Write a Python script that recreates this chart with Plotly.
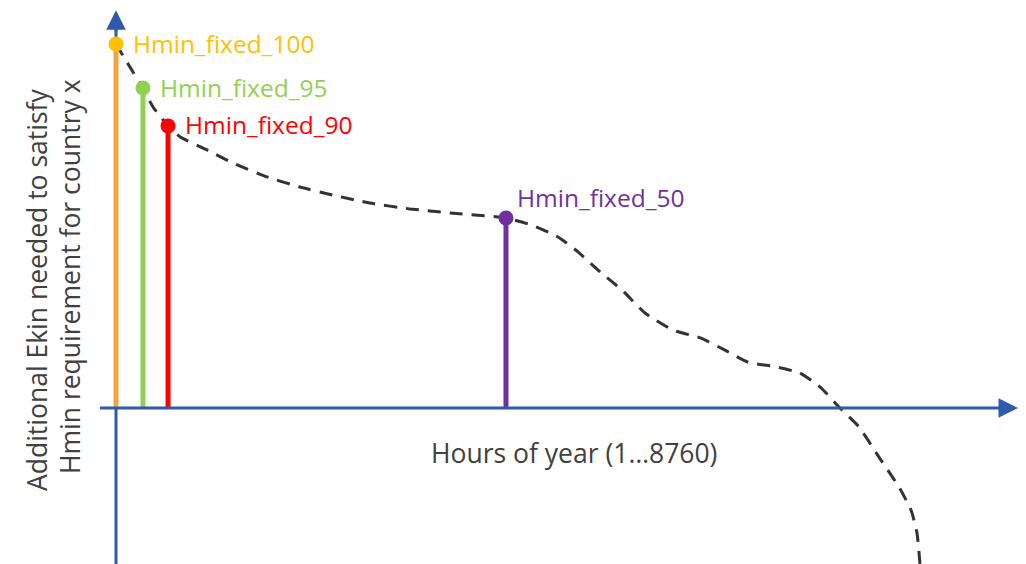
import plotly.graph_objs as go

# duration curve (hours of year vs additional Ekin, arbitrary units)
curve_hours = [0, 185, 294, 403, 567, 697, 991, 1275, 1645, 2005, 2364, 2767, 3203,
               3639, 4249, 4522, 4816, 5034, 5252, 5513, 5764, 6069, 6374, 6635,
               6886, 7191, 7452, 7670, 7888, 8095, 8313, 8531, 8662, 8727, 8760]
curve_ekin = [100, 92.3, 87.9, 82.7, 77.5, 74.5, 70.9, 67.3, 63.5, 60.7, 58.5, 56.3,
              54.7, 53.6, 52.2, 50.3, 47.0, 42.9, 37.9, 32.4, 26.1, 21.4, 19.2, 15.9,
              12.6, 11.3, 9.6, 5.8, 0, -5.2, -13.5, -21.7, -28.0, -34.3, -42.9]

stem_names = ['Hmin_fixed_100', 'Hmin_fixed_95', 'Hmin_fixed_90', 'Hmin_fixed_50']
stem_hours = [0, 294, 567, 4249]
stem_ekin = [100, 87.9, 77.5, 52.2]
stem_line_colors = ['#F4A43A', '#92D050', '#FF0000', '#7030A0']
stem_dot_colors = ['#FFC000', '#92D050', '#FF0000', '#7030A0']
stem_text_colors = ['#FFC000', '#92D050', '#FF0000', '#7030A0']

axis_blue = '#2F5AA8'
font_family = 'Open Sans, Noto Sans, sans-serif'

fig = go.Figure()

# axes (the page has an 8px body margin, ranges are set so the origin lands right)
fig.add_shape(type='line', x0=0, x1=0, y0=-46, y1=105, xref='x', yref='y',
              line=dict(color=axis_blue, width=3), layer='below')

fig.add_trace(go.Scatter(
    x=curve_hours, y=curve_ekin, mode='lines',
    line=dict(color='#333333', width=3, dash='13px,9px', shape='spline', smoothing=0.5),
    hoverinfo='skip'
))

for h, v, lc in zip(stem_hours, stem_ekin, stem_line_colors):
    fig.add_trace(go.Scatter(
        x=[h, h], y=[0, v], mode='lines',
        line=dict(color=lc, width=5), hoverinfo='skip'
    ))

fig.add_trace(go.Scatter(
    x=stem_hours, y=stem_ekin, mode='markers',
    marker=dict(color=stem_dot_colors, size=15, line=dict(width=0)),
    hoverinfo='skip'
))

fig.add_shape(type='line', x0=-174, x1=9700, y0=0, y1=0, xref='x', yref='y',
              line=dict(color=axis_blue, width=3), layer='above')

# labels next to the dots
for i, (name, h, v, c) in enumerate(zip(stem_names, stem_hours, stem_ekin, stem_text_colors)):
    if i == 3:
        fig.add_annotation(x=h, y=v, text=name, showarrow=False, xanchor='left',
                           xshift=9, yshift=21, font=dict(color=c, size=24.5, family=font_family))
    else:
        fig.add_annotation(x=h, y=v, text=name, showarrow=False, xanchor='left',
                           xshift=15, yshift=1, font=dict(color=c, size=24.5, family=font_family))

# arrow heads
fig.add_annotation(x=0, y=109.3, ax=0, ay=103, xref='x', yref='y', axref='x', ayref='y',
                   text='', showarrow=True, arrowhead=2, arrowsize=1.3, arrowwidth=3,
                   arrowcolor=axis_blue)
fig.add_annotation(x=9828, y=0, ax=9600, ay=0, xref='x', yref='y', axref='x', ayref='y',
                   text='', showarrow=True, arrowhead=2, arrowsize=1.3, arrowwidth=3,
                   arrowcolor=axis_blue)

fig.add_annotation(x=0.5517, y=0.211, xref='paper', yref='paper', showarrow=False,
                   xanchor='center', yanchor='middle',
                   text='Hours of year (1…8760)',
                   font=dict(color='#404040', size=26.5, family=font_family))
fig.add_annotation(x=0.0283, y=0.5, xref='paper', yref='paper', showarrow=False,
                   xanchor='center', yanchor='middle',
                   text='Additional Ekin needed to satisfy', textangle=-90,
                   font=dict(color='#404040', size=26.5, family=font_family))
fig.add_annotation(x=0.0604, y=0.5248, xref='paper', yref='paper', showarrow=False,
                   xanchor='center', yanchor='middle',
                   text='Hmin requirement for country x', textangle=-90,
                   font=dict(color='#404040', size=26.5, family=font_family))

fig.update_layout(
    width=1026, height=564,
    showlegend=False,
    plot_bgcolor='white',
    paper_bgcolor='white',
    margin=dict(l=0, r=0, t=0, b=0)
)
fig.update_xaxes(visible=False, range=[-1176.7, 10002.1])
fig.update_yaxes(visible=False, range=[-45.05, 109.89])

fig.write_html('out.html')
